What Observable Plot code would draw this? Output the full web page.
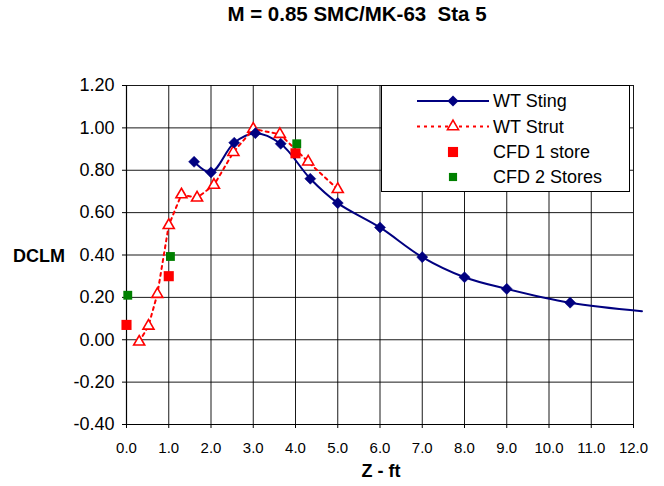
<!DOCTYPE html>
<html>
<head>
<meta charset="utf-8">
<script src="https://cdn.jsdelivr.net/npm/d3@7"></script>
<script src="https://cdn.jsdelivr.net/npm/@observablehq/plot@0.6"></script>
<style>
  html, body { margin: 0; padding: 0; background: #fff; }
  #chart { width: 664px; height: 486px; }
  svg text { white-space: pre; }
</style>
</head>
<body>
<div id="chart"></div>
<script>
// ---- data ----
const titleText = "M = 0.85 SMC/MK-63  Sta 5";
const xLabel = "Z - ft";
const yLabel = "DCLM";

const xTicks = [0, 1, 2, 3, 4, 5, 6, 7, 8, 9, 10, 11, 12];
const yTicks = [-0.4, -0.2, 0, 0.2, 0.4, 0.6, 0.8, 1.0, 1.2];

// WT Sting (navy diamonds, smooth solid line)
const stingZ    = [1.6, 2.0, 2.55, 3.05, 3.65, 4.35, 5.0, 6.0, 7.0, 8.0, 9.0, 10.5];
const stingDCLM = [0.84, 0.79, 0.93, 0.975, 0.925, 0.76, 0.645, 0.53, 0.39, 0.295, 0.24, 0.175];
// line continues past the last marker without a marker
const stingTailZ    = [12.2];
const stingTailDCLM = [0.135];

// WT Strut (red open triangles, dotted line)
const strutZ    = [0.3, 0.52, 0.73, 1.0, 1.3, 1.67, 2.07, 2.53, 3.0, 3.63, 4.3, 5.0];
const strutDCLM = [-0.01, 0.065, 0.215, 0.54, 0.685, 0.67, 0.73, 0.885, 0.995, 0.97, 0.84, 0.71];

// CFD 1 store (red squares)
const cfd1Z    = [0.0, 1.0, 4.0];
const cfd1DCLM = [0.07, 0.30, 0.88];

// CFD 2 Stores (green squares)
const cfd2Z    = [0.03, 1.04, 4.03];
const cfd2DCLM = [0.21, 0.393, 0.925];

const seriesNames = ["WT Sting", "WT Strut", "CFD 1 store", "CFD 2 Stores"];

// ---- build tables ----
const sting = stingZ.map((z, i) => ({z, v: stingDCLM[i]}));
const stingLine = sting.concat(stingTailZ.map((z, i) => ({z, v: stingTailDCLM[i]})));
const strut = strutZ.map((z, i) => ({z, v: strutDCLM[i]}));
const cfd1 = cfd1Z.map((z, i) => ({z, v: cfd1DCLM[i]}));
const cfd2 = cfd2Z.map((z, i) => ({z, v: cfd2DCLM[i]}));

const FONT = "'Liberation Sans', Arial, Helvetica, sans-serif";
const NAVY = "#000080", RED = "#ff0000", GREEN = "#008000";

const chart = Plot.plot({
  width: 664,
  height: 486,
  marginLeft: 126,
  marginRight: 31,
  marginTop: 85,
  marginBottom: 62,
  style: {fontFamily: FONT, background: "#fff", color: "#000", overflow: "visible"},
  x: {domain: [0, 12]},
  y: {domain: [-0.4, 1.2]},
  marks: [
    Plot.gridX(xTicks, {stroke: "#000", strokeOpacity: 0.9, strokeWidth: 1}),
    Plot.gridY(yTicks, {stroke: "#000", strokeOpacity: 0.9, strokeWidth: 1}),
    Plot.axisX(xTicks, {tickFormat: d => d.toFixed(1), tickSize: 4, tickPadding: 14, fontSize: 15, label: null, stroke: "#000"}),
    Plot.axisY(yTicks, {tickFormat: d => d.toFixed(2), tickSize: 4, tickPadding: 8, fontSize: 18, label: null, stroke: "#000"}),
    Plot.ruleX([0], {stroke: "#000", strokeWidth: 1.2}),
    Plot.ruleY([-0.4], {stroke: "#000", strokeWidth: 1.2}),
    Plot.line(stingLine, {x: "z", y: "v", curve: "catmull-rom", stroke: NAVY, strokeWidth: 2}),
    Plot.line(strut, {x: "z", y: "v", stroke: RED, strokeWidth: 2, strokeDasharray: "3,4"}),
    Plot.dot(cfd1, {x: "z", y: "v", symbol: "square", r: 5.7, fill: RED, stroke: "none"}),
    Plot.dot(cfd2, {x: "z", y: "v", symbol: "square", r: 5.0, fill: GREEN, stroke: "none"}),
    Plot.dot(strut, {x: "z", y: "v", symbol: "triangle", r: 4.1, fill: "#fff", stroke: RED, strokeWidth: 1.6}),
    Plot.dot(sting, {x: "z", y: "v", symbol: "diamond2", r: 5.0, fill: NAVY, stroke: NAVY, strokeWidth: 0.5})
  ]
});

document.getElementById("chart").appendChild(chart);

// ---- titles and legend (layout only) ----
const svg = d3.select(chart);
svg.append("text")
  .attr("x", 357).attr("y", 21)
  .attr("text-anchor", "middle")
  .attr("font-family", FONT).attr("font-weight", "bold").attr("font-size", 20.5)
  .text(titleText);

svg.append("text")
  .attr("x", 13).attr("y", 261.5)
  .attr("text-anchor", "start")
  .attr("font-family", FONT).attr("font-weight", "bold").attr("font-size", 18)
  .text(yLabel);

svg.append("text")
  .attr("x", 381).attr("y", 477)
  .attr("text-anchor", "middle")
  .attr("font-family", FONT).attr("font-weight", "bold").attr("font-size", 18)
  .text(xLabel);

const lg = svg.append("g");
lg.append("rect")
  .attr("x", 381.5).attr("y", 85.5).attr("width", 248).attr("height", 106)
  .attr("fill", "#fff").attr("stroke", "#000").attr("stroke-width", 1);

const rowY = [101, 126.5, 152, 177];
const sym = (type, size) => d3.symbol(type, size)();
// WT Sting
lg.append("line").attr("x1", 417).attr("x2", 489).attr("y1", rowY[0]).attr("y2", rowY[0])
  .attr("stroke", NAVY).attr("stroke-width", 2);
lg.append("path").attr("d", sym(d3.symbolDiamond2, Math.PI * 25))
  .attr("transform", `translate(453,${rowY[0]})`).attr("fill", NAVY);
// WT Strut
lg.append("line").attr("x1", 417).attr("x2", 489).attr("y1", rowY[1]).attr("y2", rowY[1])
  .attr("stroke", RED).attr("stroke-width", 2).attr("stroke-dasharray", "3,4");
lg.append("path").attr("d", sym(d3.symbolTriangle, Math.PI * 4.1 * 4.1))
  .attr("transform", `translate(453,${rowY[1]})`).attr("fill", "#fff").attr("stroke", RED).attr("stroke-width", 1.6);
// CFD 1
lg.append("path").attr("d", sym(d3.symbolSquare, Math.PI * 5.7 * 5.7))
  .attr("transform", `translate(453,${rowY[2]})`).attr("fill", RED);
// CFD 2
lg.append("path").attr("d", sym(d3.symbolSquare, Math.PI * 4.6 * 4.6))
  .attr("transform", `translate(453,${rowY[3]})`).attr("fill", GREEN);

seriesNames.forEach((name, i) => {
  lg.append("text")
    .attr("x", 493).attr("y", rowY[i]).attr("dy", "0.35em")
    .attr("text-anchor", "start")
    .attr("font-family", FONT).attr("font-size", 18)
    .text(name);
});
</script>
</body>
</html>
